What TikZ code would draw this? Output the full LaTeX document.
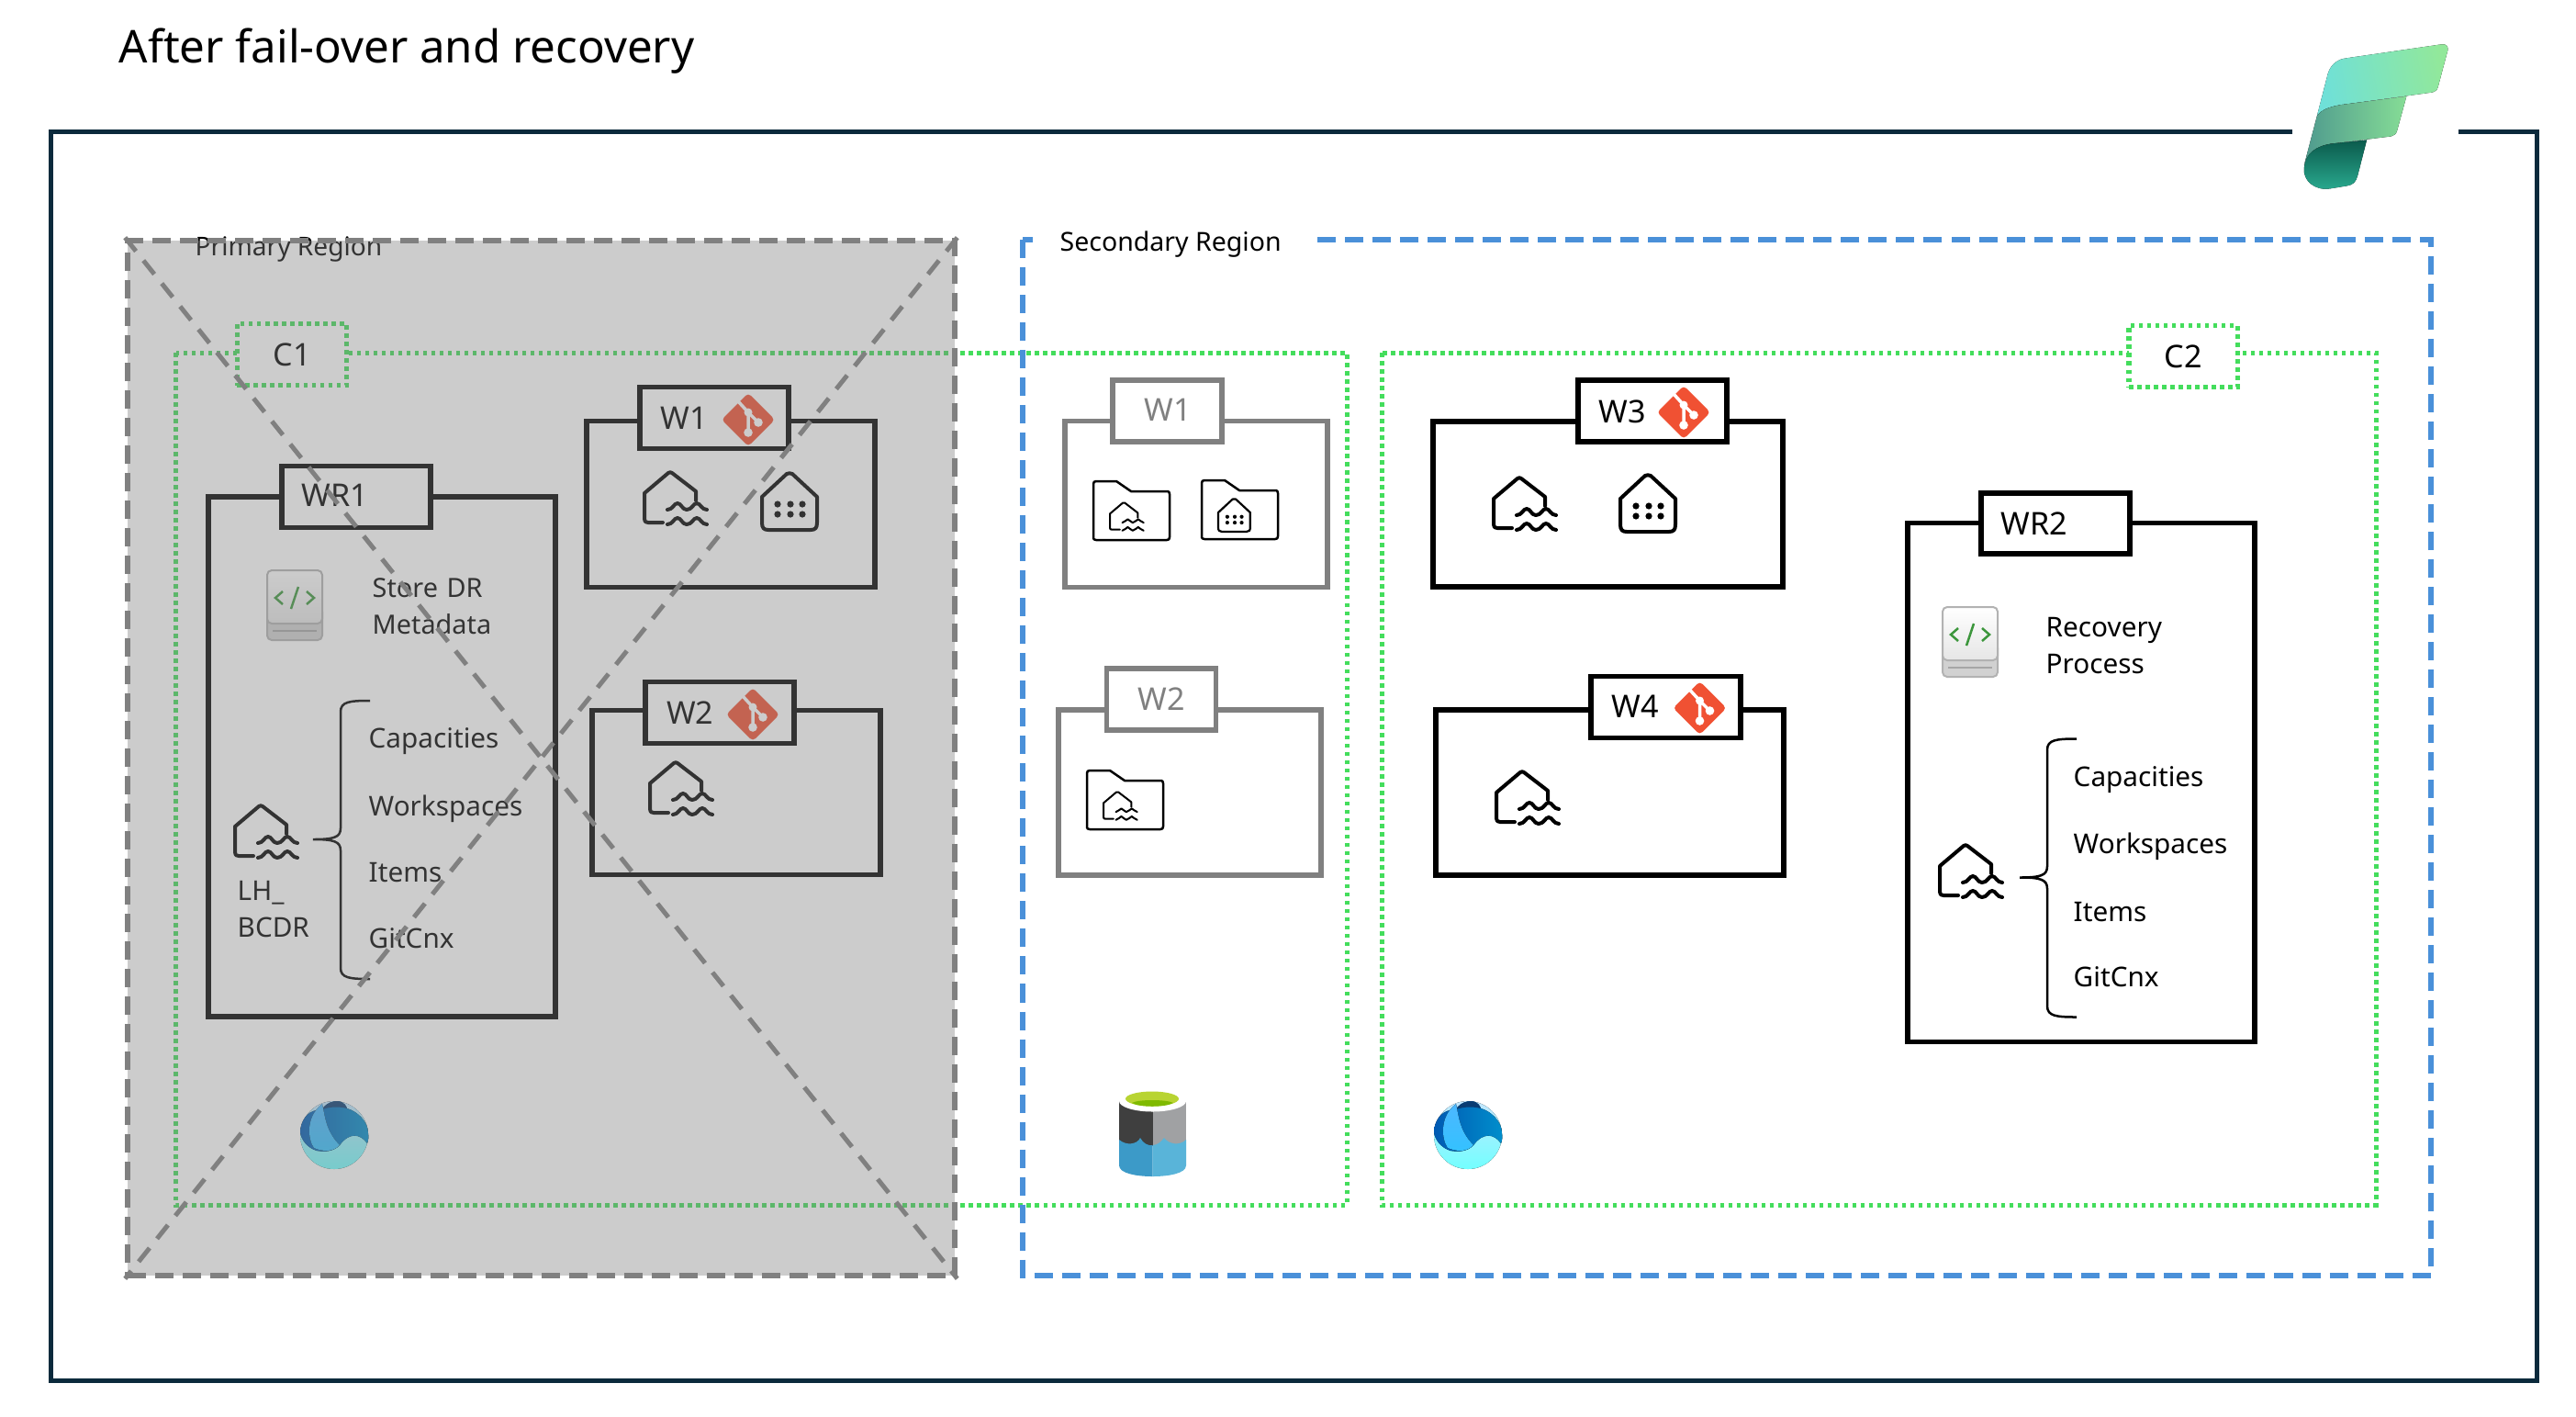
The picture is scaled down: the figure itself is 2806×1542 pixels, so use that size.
\documentclass[tikz,border=0pt]{standalone}
\usepackage{fontspec}
\setmainfont{Noto Sans}
\usepackage{xcolor}
\usetikzlibrary{positioning}
\definecolor{navy}{HTML}{0B2A3C}
\definecolor{midgray}{HTML}{808080}
\definecolor{dashblue}{HTML}{4A90D9}
\definecolor{dotgreen}{HTML}{44DD5C}
\definecolor{gitred}{HTML}{F05133}
\definecolor{fabtopa}{HTML}{6FE0D8}
\definecolor{fabtopb}{HTML}{86EFD0}
\definecolor{fabtopc}{HTML}{92E89A}
\definecolor{fabmida}{HTML}{4F9A8E}
\definecolor{fabmidb}{HTML}{2AA58F}
\definecolor{fabmidc}{HTML}{86DD96}
\definecolor{fabbota}{HTML}{0B5A4C}
\definecolor{fabbotb}{HTML}{2AAB90}

\tikzset{
  iconline/.style={line width=.04cm,line cap=round,line join=round},
  lake/.pic={
    \draw[iconline] (20,55) -- (4,55) .. controls (1,55) and (0,54) .. (0,51) -- (0,23)
      -- (26,1) .. controls (27,0) and (29,0) .. (30,1) -- (56,21) -- (56,31);
    \foreach \wy in {41,57}
      \draw[iconline] (25,\wy) .. controls (31,\wy) and (32,\wy-7) .. (36,\wy-7)
        .. controls (40,\wy-7) and (41,\wy) .. (46,\wy)
        .. controls (52,\wy) and (53,\wy-7) .. (57,\wy-7)
        .. controls (61,\wy-7) and (62,\wy) .. (68,\wy);
  },
  warehouse/.pic={
    \draw[iconline] (0,26) -- (27,1) .. controls (29,0) and (31,0) .. (33,1) -- (60,26) -- (60,54)
      .. controls (60,60) and (58,62) .. (53,62) -- (7,62) .. controls (2,62) and (0,60) .. (0,54) -- cycle;
    \foreach \dx in {17,31,44}
      \foreach \dy in {34,45}
        \fill (\dx,\dy) circle (3.6);
  },
  folder/.pic={
    \draw[line width=.025cm,line join=round] (0,62) -- (0,3) .. controls (0,1) and (1,0) .. (3,0) -- (25,0)
      -- (41,11) -- (81,11) .. controls (82,11) and (83,12) .. (83,14) -- (83,61)
      .. controls (83,63) and (82,64) .. (80,64) -- (3,64) .. controls (1,64) and (0,63) .. (0,62) -- cycle;
  },
  gitlogo/.pic={
    \fill[gitred,rounded corners=.04cm] (0,-29) -- (29,0) -- (0,29) -- (-29,0) -- cycle;
    \draw[white,line width=.035cm] (-11,-20) -- (0,-8) -- (0,14) (0,-8) -- (11,3);
    \fill[white] (0,-8) circle (4.5) (0,14) circle (4.8) (11,3) circle (4.8);
  },
  notebook/.pic={
    \draw[draw=black!30,line width=.02cm,rounded corners=.05cm,fill=black!18] (0,40) rectangle (60,76);
    \draw[draw=black!30,line width=.02cm,rounded corners=.05cm,top color=white,bottom color=black!10] (0,0) rectangle (60,58);
    \draw[black!35,line width=.02cm] (6,66) -- (54,66);
    \draw[line width=.025cm,color={rgb,255:red,60;green,150;blue,60}]
      (17,23) -- (9,30) -- (17,37) (43,23) -- (51,30) -- (43,37) (34,18) -- (26,42);
  },
  ebrace/.pic={
    \draw[line width=.025cm] (32,0) .. controls (10,0) and (0,1) .. (0,12) -- (0,139)
      .. controls (0,149) and (-8,151) .. (-30,151)
      .. controls (-8,151) and (0,153) .. (0,163) -- (0,291) .. controls (0,302) and (10,303) .. (32,303);
  },
  onelake/.pic={
    \fill[top color=cyan!15!white!90!blue,bottom color=cyan!55!white] (37,40) circle (37);
    \fill[left color=blue!50!cyan!70!black,right color=blue!30!cyan!80!black] (24,12)
      .. controls (28,4) and (46,-3) .. (51,11) .. controls (62,14) and (74,25) .. (74,38)
      .. controls (75,42) and (74,46) .. (73,49) .. controls (66,39) and (54,36) .. (43,51)
      .. controls (35,59) and (25,58) .. (18,57) .. controls (8,54) and (1,45) .. (0,37)
      .. controls (0,25) and (8,14) .. (18,13) -- cycle;
    \fill[color={rgb,255:red,10;green,60;blue,115}] (24,12) .. controls (28,4) and (46,-3) .. (51,11)
      .. controls (40,8) and (30,10) .. (24,12) -- cycle;
    \fill[top color=cyan!60!blue!70!white,bottom color=cyan!70!blue!80] (24,6)
      .. controls (27,20) and (28,36) .. (43,51) .. controls (35,59) and (25,58) .. (15,54)
      .. controls (8,44) and (6,20) .. (24,6) -- cycle;
  },
  datalake/.pic={
    \fill[color={rgb,255:red,63;green,63;blue,63}] (0,11) rectangle (36.5,60);
    \fill[color={rgb,255:red,160;green,161;blue,163}] (36.5,11) rectangle (73,60);
    \fill[color={rgb,255:red,60;green,154;blue,200}] (0,53) .. controls (8,60) and (20,58) .. (23,51)
      .. controls (26,57) and (32,60) .. (36.5,59) -- (36.5,93) .. controls (20,93) and (0,90) .. (0,81) -- cycle;
    \fill[color={rgb,255:red,89;green,180;blue,217}] (36.5,59) .. controls (42,59) and (46,55) .. (49,51)
      .. controls (54,58) and (66,60) .. (73,53) -- (73,81) .. controls (73,90) and (53,93) .. (36.5,93) -- cycle;
    \fill[white] (36.5,11) ellipse [x radius=36.5,y radius=11.5];
    \fill[color={rgb,255:red,184;green,212;blue,50}] (36,8.5) ellipse [x radius=29,y radius=8];
    \fill[color={rgb,255:red,127;green,186;blue,0}] (14,13) .. controls (20,9) and (52,9) .. (59,13)
      .. controls (50,18) and (22,18) .. (14,13) -- cycle;
  },
  wsbox/.style={draw,line width=.055cm,fill=white,inner sep=0,outer sep=0},
  greenbox/.style={draw=dotgreen,line width=.05cm,dash pattern=on .045cm off .045cm},
  txt/.style={anchor=west,inner sep=0,font=\fontsize{8.45}{10}\selectfont,align=left},
  meta/.style={txt,font=\fontsize{8.2}{10}\selectfont,text width=2cm},
  lbl/.style={anchor=west,inner sep=0,font=\fontsize{9.7}{12}\selectfont},
  crossline/.style={midgray,line width=.05cm,dash pattern=on .19cm off .13cm},
}

\begin{document}
\begin{tikzpicture}[x=.01cm,y=-.01cm]
  \useasboundingbox (0,0) rectangle (2806,1542);

  \node[anchor=west,inner sep=0,font=\fontsize{14}{16}\selectfont] (title) at (129,56) {After fail-over and recovery};

  % outer frame
  \coordinate (gapl) at (2497,143.5);
  \coordinate (gapr) at (2678,143.5);
  \draw[navy,line width=.05cm] (gapl) -- (55.5,143.5) -- (55.5,1503) -- (2763,1503) -- (2763,143.5) -- (gapr);

  % capacities
  \draw[greenbox] (191.5,384) rectangle (1467,1312);
  \draw[greenbox] (1505,384) rectangle (2588,1312);
  \node[greenbox,fill=white,minimum width=1.19cm,minimum height=.67cm,text=black,font=\fontsize{9.7}{12}\selectfont] (c1) at (318,386) {C1};
  \node[greenbox,fill=white,minimum width=1.18cm,minimum height=.67cm,text=black,font=\fontsize{9.7}{12}\selectfont] (c2) at (2378,388) {C2};

  % secondary region
  \draw[dashblue,line width=.055cm,dash pattern=on .2cm off .1cm] (1114,261) rectangle (2648,1389);
  \node[txt,fill=white,inner xsep=.2cm,inner ysep=.1cm,font=\fontsize{8.1}{10}\selectfont] (second) at (1134,266) {Secondary Region\hspace*{.16cm}};

  % primary region content
  \node[txt,font=\fontsize{8}{10}\selectfont] (primlbl) at (212,272) {Primary Region};

  \node[wsbox,minimum width=3.78cm,minimum height=5.66cm] (wr1) at (416,824) {};
  \node[wsbox,minimum width=1.62cm,minimum height=.67cm] (wr1tab) at (388,541) {};
  \node[lbl] (wr1lbl) at (328,539) {WR1};
  \pic at (291,621) {notebook};
  \node[meta] (store) at (405,660) {Store DR\\[1.5pt]Metadata};
  \pic at (256,877) {lake};
  \node[txt,text width=1.2cm] (lhbcdr) at (258,990) {LH\_\\[1.5pt]BCDR};
  \pic at (371,763) {ebrace};
  \node[txt] (capa1) at (401,807) {Capacities};
  \node[txt] (work1) at (401,881) {Workspaces};
  \node[txt] (item1) at (401,950) {Items};
  \node[txt] (gitc1) at (401,1022) {GitCnx};

  \node[wsbox,minimum width=3.14cm,minimum height=1.81cm] (w1a) at (796,549) {};
  \node[wsbox,minimum width=1.62cm,minimum height=.67cm] (w1atab) at (778,455) {};
  \node[lbl] (w1albl) at (719,455) {W1};
  \pic at (815,457) {gitlogo};
  \pic at (702,514) {lake};
  \pic at (830,515) {warehouse};

  \node[wsbox,minimum width=3.14cm,minimum height=1.79cm] (w2a) at (802,863) {};
  \node[wsbox,minimum width=1.62cm,minimum height=.67cm] (w2atab) at (784,776) {};
  \node[lbl] (w2albl) at (725.5,776) {W2};
  \pic at (820,778) {gitlogo};
  \pic at (708,830) {lake};

  \pic at (327,1196) {onelake};

  % failed region overlay
  \node[draw=midgray,fill=midgray,fill opacity=.4,line width=.06cm,dash pattern=on .2cm off .1cm,
    minimum width=9.0cm,minimum height=11.27cm,inner sep=0] (prim) at (589.5,825.5) {};
  \draw[crossline] (prim.north west) -- (prim.south east);
  \draw[crossline] (prim.north east) -- (prim.south west);

  % secondary grey copies
  \node[wsbox,draw=midgray,minimum width=2.86cm,minimum height=1.81cm] (w1b) at (1303,549) {};
  \node[wsbox,draw=midgray,minimum width=1.19cm,minimum height=.67cm] (w1btab) at (1271.5,447.5) {};
  \node[lbl,text=midgray] (w1blbl) at (1246,446) {W1};
  \node[wsbox,draw=midgray,minimum width=2.86cm,minimum height=1.8cm] (w2b) at (1296,863) {};
  \node[wsbox,draw=midgray,minimum width=1.19cm,minimum height=.67cm] (w2btab) at (1265,761.5) {};
  \node[lbl,text=midgray] (w2blbl) at (1239,761) {W2};
  \pic at (1191,524) {folder};
  \pic[scale=.54,iconline/.style={line width=.02cm,line cap=round,line join=round}] at (1209,547) {lake};
  \pic at (1309,523) {folder};
  \pic[scale=.58,iconline/.style={line width=.022cm,line cap=round,line join=round}] at (1327,543) {warehouse};
  \pic at (1184,839) {folder};
  \pic[scale=.54,iconline/.style={line width=.02cm,line cap=round,line join=round}] at (1202,862) {lake};
  \pic at (1219,1188) {datalake};

  % secondary workspaces
  \node[wsbox,minimum width=3.81cm,minimum height=1.8cm] (w3) at (1751.5,549) {};
  \node[wsbox,minimum width=1.62cm,minimum height=.67cm] (w3tab) at (1800,447.5) {};
  \node[lbl] (w3lbl) at (1741,448) {W3};
  \pic at (1834,449) {gitlogo};
  \pic at (1627,520) {lake};
  \pic at (1765,517) {warehouse};

  \node[wsbox,minimum width=3.79cm,minimum height=1.8cm] (w4) at (1753.5,863) {};
  \node[wsbox,minimum width=1.63cm,minimum height=.67cm] (w4tab) at (1814.5,770) {};
  \node[lbl] (w4lbl) at (1755,769) {W4};
  \pic at (1851.5,771) {gitlogo};
  \pic at (1630,840) {lake};

  \node[wsbox,minimum width=3.78cm,minimum height=5.65cm] (wr2) at (2267,852) {};
  \node[wsbox,minimum width=1.62cm,minimum height=.66cm] (wr2tab) at (2239,570) {};
  \node[lbl] (wr2lbl) at (2179,570) {WR2};
  \pic at (2116,661) {notebook};
  \node[txt,text width=2cm] (recov) at (2228,703) {Recovery\\[1.5pt]Process};
  \pic at (2113,920) {lake};
  \pic at (2230,804.5) {ebrace};
  \node[txt] (capa2) at (2258,849) {Capacities};
  \node[txt] (work2) at (2258,922) {Workspaces};
  \node[txt] (item2) at (2258,993) {Items};
  \node[txt] (gitc2) at (2258,1064) {GitCnx};

  \pic at (1562,1196) {onelake};

  % logo
  \begin{scope}[shift={(2400,20)},x=.00333cm,y=-.00333cm]
    \fill[left color=fabtopa,middle color=fabtopb,right color=fabtopc,shading angle=100]
      (470,130) -- (780,85) .. controls (795,83) and (803,92) .. (800,105) -- (768,225)
      .. controls (765,235) and (760,240) .. (750,242) -- (450,283) .. controls (410,290) and (385,300) .. (372,320)
      -- (408,180) .. controls (418,150) and (440,133) .. (470,130) -- cycle;
    \fill[left color=fabmida,middle color=fabmidb,right color=fabmidc]
      (372,320) .. controls (385,300) and (410,290) .. (450,283) -- (665,255) -- (635,365)
      .. controls (632,378) and (625,384) .. (615,386) -- (420,410) .. controls (370,418) and (340,440) .. (330,480) -- cycle;
    \fill[top color=fabbota,bottom color=fabbotb]
      (330,490) .. controls (335,440) and (370,418) .. (420,410) -- (535,398) -- (505,515)
      .. controls (500,535) and (490,545) .. (470,548) -- (415,557) .. controls (365,565) and (325,530) .. (330,490) -- cycle;
  \end{scope}
\end{tikzpicture}
\end{document}
